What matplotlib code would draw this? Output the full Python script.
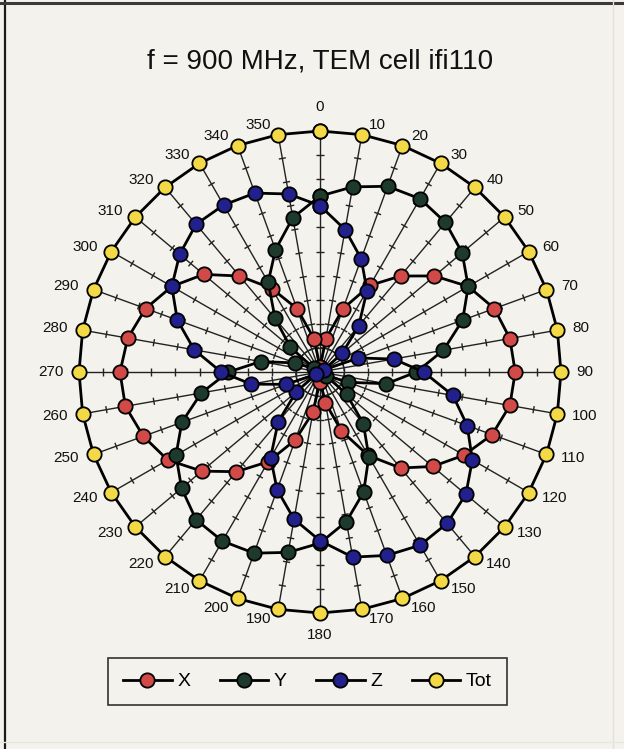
import numpy as np
import matplotlib
matplotlib.use("Agg")
import matplotlib.pyplot as plt
from matplotlib.collections import LineCollection
from matplotlib.lines import Line2D

# ---------------- data ----------------
angle_labels = ['0', '10', '20', '30', '40', '50', '60', '70', '80', '90',
                '100', '110', '120', '130', '140', '150', '160', '170', '180',
                '190', '200', '210', '220', '230', '240', '250', '260', '270',
                '280', '290', '300', '310', '320', '330', '340', '350']
angles_deg = [0, 10, 20, 30, 40, 50, 60, 70, 80, 90, 100, 110, 120, 130, 140,
              150, 160, 170, 180, 190, 200, 210, 220, 230, 240, 250, 260, 270,
              280, 290, 300, 310, 320, 330, 340, 350]

X = [0.02, 0.14, 0.28, 0.415, 0.52, 0.62, 0.71, 0.77, 0.80, 0.81, 0.80, 0.76,
     0.69, 0.61, 0.52, 0.40, 0.26, 0.13, 0.04, 0.17, 0.30, 0.43, 0.54, 0.64,
     0.73, 0.78, 0.82, 0.83, 0.81, 0.77, 0.71, 0.63, 0.52, 0.40, 0.28, 0.14]
Y = [0.73, 0.78, 0.82, 0.83, 0.81, 0.77, 0.71, 0.63, 0.52, 0.40, 0.28, 0.125,
     0.03, 0.145, 0.28, 0.405, 0.53, 0.63, 0.71, 0.76, 0.80, 0.81, 0.80, 0.75,
     0.69, 0.61, 0.50, 0.38, 0.25, 0.11, 0.03, 0.16, 0.29, 0.43, 0.54, 0.65]
Z = [0.69, 0.60, 0.50, 0.39, 0.25, 0.12, 0.02, 0.17, 0.31, 0.43, 0.56, 0.65,
     0.73, 0.79, 0.82, 0.83, 0.81, 0.78, 0.70, 0.62, 0.52, 0.41, 0.27, 0.13,
     0.02, 0.15, 0.29, 0.41, 0.53, 0.63, 0.71, 0.76, 0.80, 0.80, 0.79, 0.75]
Tot = [1.0, 1.0, 1.0, 1.0, 1.0, 1.0, 1.0, 1.0, 1.0, 1.0, 1.0, 1.0,
       1.0, 1.0, 1.0, 1.0, 1.0, 1.0, 1.0, 1.0, 1.0, 1.0, 1.0, 1.0,
       1.0, 1.0, 1.0, 1.0, 1.0, 1.0, 1.0, 1.0, 1.0, 1.0, 1.0, 1.0]
series_names = ['X', 'Y', 'Z', 'Tot']
radial_ticks = [0.1, 0.2, 0.3, 0.4, 0.5, 0.6, 0.7, 0.8, 0.9]
title = 'f = 900 MHz, TEM cell ifi110'

# ---------------- style ----------------
W, H = 624, 749
BG = '#f3f2ec'
colors = {'X': '#d24a47', 'Y': '#1d3a2d', 'Z': '#22208c', 'Tot': '#f2d945'}
FONT = 'Liberation Sans'

fig = plt.figure(figsize=(W / 100, H / 100), dpi=100, facecolor=BG)

cx, cy, R = 320, 372, 241
ax = fig.add_axes([(cx - R) / W, (H - cy - R) / H, 2 * R / W, 2 * R / H],
                  projection='polar')
ax.set_theta_zero_location('N')
ax.set_theta_direction(-1)
ax.set_ylim(0, 1.0)
ax.axis('off')
ax.patch.set_alpha(0)

theta = np.deg2rad(angles_deg)

# spokes
spoke_segs = [[(t, 0.0), (t, 1.0)] for t in theta]
ax.add_collection(LineCollection(spoke_segs, colors='#222222', linewidths=1.0,
                                 zorder=1))
# tick marks on spokes
h = 3.6 / R
tick_segs = []
for t in theta:
    for r in radial_ticks:
        rr = np.hypot(r, h)
        dt = np.arctan2(h, r)
        tick_segs.append([(t - dt, rr), (t + dt, rr)])
ax.add_collection(LineCollection(tick_segs, colors='#222222', linewidths=1.0,
                                 zorder=1))

data = {'X': X, 'Y': Y, 'Z': Z, 'Tot': Tot}
handles = []
for i, name in enumerate(series_names):
    vals = list(data[name]) + [data[name][0]]
    th = list(theta) + [theta[0]]
    ln, = ax.plot(th, vals, color='black', lw=2.0, marker='o', ms=10.3,
                  mfc=colors[name], mec='black', mew=1.3, zorder=3 + i,
                  clip_on=False, label=name)
    handles.append(ln)

# angle labels
for t, lab, deg in zip(theta, angle_labels, angles_deg):
    s, c = np.sin(t), np.cos(t)
    if deg == 0:
        off, ha, va = (0, 24), 'center', 'center'
    elif deg == 180:
        off, ha, va = (0, -22), 'center', 'center'
    elif deg < 180:
        off, ha, va = (10 * s + 5, 10 * c), 'left', 'center'
    else:
        off, ha, va = (10 * s - 5, 10 * c), 'right', 'center'
    ax.annotate(lab, xy=(t, 1.0), xytext=off, textcoords='offset pixels',
                ha=ha, va=va, fontsize=11, family=FONT, color='#111111',
                annotation_clip=False)

# title
fig.text(cx / W, 1 - 62 / H, title, ha='center', va='center', fontsize=20,
         family=FONT, color='#111111')

# legend
leg = fig.legend(handles=handles, labels=series_names, loc='center',
                 bbox_to_anchor=(307.5 / W, 1 - 681.5 / H), ncol=4,
                 frameon=True, fancybox=False, edgecolor='#333333',
                 facecolor=BG, framealpha=1, prop={'family': FONT, 'size': 14},
                 handlelength=2.5, handletextpad=0.3, columnspacing=1.5,
                 borderpad=0.75, borderaxespad=0)
leg.get_frame().set_linewidth(1.2)

# figure border
fig.add_artist(Line2D([5 / W, 5 / W], [0, 1], transform=fig.transFigure,
                      color='#1a1a1a', lw=1.6))
fig.add_artist(Line2D([0, 1], [1 - 3 / H, 1 - 3 / H], transform=fig.transFigure,
                      color='#3a3a3a', lw=2.2))
fig.add_artist(Line2D([613 / W, 613 / W], [0, 1], transform=fig.transFigure,
                      color='#e9dede', lw=1.0))
fig.add_artist(Line2D([0, 1], [1 - 742 / H, 1 - 742 / H],
                      transform=fig.transFigure, color='#e6e6e0', lw=1.0))

fig.savefig('out.png', dpi=100, facecolor=BG)
